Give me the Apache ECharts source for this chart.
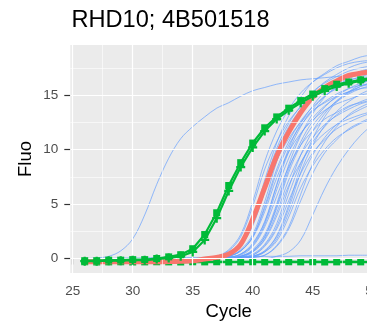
<!DOCTYPE html>
<html>
<head>
<meta charset="utf-8">
<script src="https://cdn.jsdelivr.net/npm/echarts@6/dist/echarts.min.js"></script>
<style>html,body{margin:0;padding:0;background:#fff;overflow:hidden;}#c{width:367px;height:325px;}</style>
</head>
<body>
<div id="c"></div>
<script>
const titleText = 'RHD10; 4B501518';
const cycles = [26,27,28,29,30,31,32,33,34,35,36,37,38,39,40,41,42,43,44,45,46,47,48,49,50];
const xTicks = [25,30,35,40,45,50];
const xMinor = [27.5,32.5,37.5,42.5,47.5];
const yTicks = [0,5,10,15];
const yMinor = [2.5,7.5,12.5,17.5];

const blue01 = [0,0,0,0,0,0,0,0,0,0,0,0.2,0.8,2.2,5.2,8.9,11.7,13.7,15.2,16.2,16.9,17.5,17.9,18.1,18.2];
const blue02 = [0,0,0,0,0,0,0,0,0,0,0,0.2,0.7,2.0,4.8,8.2,10.7,12.6,13.9,14.9,15.6,16.1,16.4,16.6,16.7];
const blue03 = [0,0,0,0,0,0,0,0,0,0,0,0.1,0.4,1.4,3.6,7.2,10.6,13.1,14.8,16.2,17.0,17.7,18.1,18.5,18.7];
const blue04 = [0,0,0,0,0,0,0,0,0,0,0,0.1,0.4,1.3,3.3,6.7,9.8,12.1,13.7,14.9,15.7,16.3,16.7,17.0,17.2];
const blue05 = [0,0,0,0,0,0,0,0,0,0,0,0.1,0.4,1.2,3.0,6.1,9.0,11.0,12.5,13.6,14.3,14.9,15.3,15.6,15.7];
const blue06 = [0,0,0,0,0,0,0,0,0,0,0,0,0.2,0.8,2.2,5.2,8.9,11.7,13.7,15.2,16.2,16.9,17.5,17.9,18.1];
const blue07 = [0,0,0,0,0,0,0,0,0,0,0,0,0.2,0.7,2.0,4.8,8.2,10.7,12.6,13.9,14.9,15.6,16.1,16.4,16.6];
const blue08 = [0,0,0,0,0,0,0,0,0,0,0,0,0.2,0.7,1.9,4.3,7.4,9.8,11.5,12.7,13.6,14.2,14.6,15.0,15.2];
const blue09 = [0,0,0,0,0,0,0,0,0,0,0,0,0.2,0.7,2.0,4.6,7.9,10.4,12.2,13.5,14.4,15.1,15.6,15.9,16.1];
const blue10 = [0,0,0,0,0,0,0,0,0,0,0,0,0.1,0.4,1.4,3.4,6.8,10.1,12.4,14.0,15.3,16.1,16.7,17.2,17.5];
const blue11 = [0,0,0,0,0,0,0,0,0,0,0,0,0.1,0.4,1.2,3.1,6.3,9.2,11.4,12.9,14.0,14.8,15.3,15.8,16.0];
const blue12 = [0,0,0,0,0,0,0,0,0,0,0,0,0.1,0.3,1.1,2.9,5.7,8.4,10.4,11.7,12.8,13.4,14.0,14.3,14.6];
const blue13 = [0,0,0,0,0,0,0,0,0,0,0,0,0.1,0.4,1.3,3.3,6.7,9.8,12.1,13.7,14.9,15.7,16.3,16.7,17.0];
const blue14 = [0,0,0,0,0,0,0,0,0,0,0,0,0,0.2,0.8,2.2,5.0,8.6,11.3,13.3,14.8,15.8,16.5,17.0,17.4];
const blue15 = [0,0,0,0,0,0,0,0,0,0,0,0,0,0.2,0.7,2.0,4.6,7.9,10.4,12.2,13.5,14.4,15.1,15.6,15.9];
const blue16 = [0,0,0,0,0,0,0,0,0,0,0,0,0,0.2,0.6,1.8,4.2,7.2,9.5,11.1,12.3,13.1,13.7,14.2,14.5];
const blue17 = [0,0,0,0,0,0,0,0,0,0,0,0,0,0.1,0.6,1.7,3.9,6.7,8.8,10.4,11.5,12.3,12.8,13.2,13.5];
const blue18 = [0,0,0,0,0,0,0,0,0,0,0,0,0,0.1,0.4,1.3,3.2,6.5,9.5,11.7,13.3,14.5,15.2,15.8,16.2];
const blue19 = [0,0,0,0,0,0,0,0,0,0,0,0,0,0.1,0.3,1.2,2.9,5.9,8.7,10.7,12.1,13.2,13.9,14.4,14.8];
const blue20 = [0,0,0,0,0,0,0,0,0,0,0,0,0,0.1,0.3,1.1,2.7,5.3,7.8,9.7,10.9,11.9,12.5,13.0,13.4];
const blue21 = [0,0,0,0,0,0,0,0,0,0,0,0,0,0,0.2,0.7,2.0,4.6,7.9,10.4,12.2,13.5,14.4,15.1,15.6];
const blue22 = [0,0,0,0,0,0,0,0,0,0,0,0,0,0,0.2,0.6,1.8,4.2,7.2,9.5,11.1,12.3,13.1,13.7,14.2];
const blue23 = [0,0,0,0,0,0,0,0,0,0,0,0,0,0,0.1,0.6,1.6,3.8,6.5,8.5,10.0,11.1,11.8,12.4,12.8];
const blue24 = [0,0,0,0,0,0,0,0,0,0,0,0,0,0,0.1,0.3,1.2,2.9,5.9,8.7,10.7,12.1,13.2,13.9,14.4];
const blue25 = [0,0,0,0,0,0,0,0,0,0,0,0,0,0,0.1,0.3,1.1,2.7,5.3,7.8,9.7,10.9,11.9,12.5,13.0];
const blue26 = [0,0,0,0,0,0,0,0,0,0,0,0.1,0.4,1.4,3.4,6.8,10.1,12.4,14.0,15.3,16.1,16.7,17.2,17.5,17.7];
const blue27 = [0,0,0,0,0,0,0,0,0,0,0,0,0,0.2,0.7,2.0,4.8,8.2,10.7,12.6,13.9,14.9,15.6,16.1,16.4];
const blue28 = [0,0,0,0,0,0,0,0,0,0,0,0,0,0,0.2,0.7,2.1,4.9,8.4,11.0,13.0,14.4,15.3,16.0,16.5];
const blueLate = [0,0,0,0,0,0,0,0,0,0,0,0,0,0,0,0,0.2,0.6,1.7,4.0,6.4,8.4,10.0,11.3,12.3];
const blueEarly = [0.0,0.05,0.2,0.7,1.8,4.0,6.8,9.2,11.0,12.1,13.0,13.8,14.3,14.9,15.4,15.7,16.0,16.2,16.4,16.5,16.6,16.7,16.8,16.9,17.0];
const blueFlat = [0.0,0.0,0.0,0.05,0.05,0.05,0.1,0.1,0.1,0.1,0.1,0.15,0.15,0.15,0.2,0.2,0.2,0.2,0.25,0.25,0.25,0.25,0.3,0.3,0.3];

const redFit = [-0.3,-0.3,-0.3,-0.3,-0.3,-0.3,-0.3,-0.28,-0.25,-0.2,-0.05,0.1,0.4,1.3,3.6,6.5,9.4,11.6,13.4,14.8,15.7,16.3,16.8,17.0,17.2];
const greenSquare = [-0.2,-0.2,-0.15,-0.15,-0.1,-0.1,0.0,0.15,0.35,0.9,2.2,4.2,6.7,8.8,10.6,12.0,13.0,13.8,14.5,15.1,15.6,16.0,16.2,16.4,16.6];
const greenPlus = [-0.25,-0.25,-0.2,-0.2,-0.15,-0.15,-0.05,0.05,0.2,0.6,1.7,3.7,6.2,8.4,10.2,11.7,12.8,13.6,14.3,14.9,15.4,15.8,16.1,16.3,16.5];
const greenFlat = [-0.3,-0.32,-0.31,-0.3,-0.32,-0.31,-0.3,-0.31,-0.32,-0.3,-0.31,-0.3,-0.32,-0.31,-0.3,-0.31,-0.32,-0.3,-0.31,-0.3,-0.32,-0.31,-0.3,-0.31,-0.32];

const blueList = [blue01,blue02,blue03,blue04,blue05,blue06,blue07,blue08,blue09,blue10,blue11,blue12,blue13,blue14,
  blue15,blue16,blue17,blue18,blue19,blue20,blue21,blue22,blue23,blue24,blue25,blue26,blue27,blue28,blueLate,blueEarly,blueFlat];

function pairs(vals){ return cycles.map((c,i)=>[c, vals[i]]); }

const FONT = 'Liberation Sans, Arial, sans-serif';
const series = [];
series.push({
  type:'line', data:[[30,0]], showSymbol:false, lineStyle:{opacity:0}, z:1, silent:true,
  markLine:{
    silent:true, symbol:['none','none'], label:{show:false}, animation:false,
    data: [
      ...yMinor.map(v=>({yAxis:v, lineStyle:{color:'#ffffff', width:0.6, type:'solid'}})),
      ...xMinor.map(v=>({xAxis:v, lineStyle:{color:'#ffffff', width:0.6, type:'solid'}})),
      ...yTicks.map(v=>({yAxis:v, lineStyle:{color:'#ffffff', width:1.2, type:'solid'}})),
      ...xTicks.map(v=>({xAxis:v, lineStyle:{color:'#ffffff', width:1.2, type:'solid'}}))
    ]
  }
});
blueList.forEach(arr=>{
  series.push({type:'line', data:pairs(arr), showSymbol:false, smooth:0.35, z:2, silent:true,
    lineStyle:{color:'#619CFF', width:0.9, opacity:0.75}});
});
series.push({type:'line', data:pairs(greenFlat), symbol:'rect', symbolSize:7, z:3,
  itemStyle:{color:'#00BA38'}, lineStyle:{color:'#00BA38', width:2.5}});
series.push({type:'line', data:pairs(redFit), showSymbol:false, smooth:0.35, z:4,
  lineStyle:{color:'#F8766D', width:5}});
series.push({type:'line', data:pairs(greenPlus), symbol:'path://M3,0H5V3H8V5H5V8H3V5H0V3H3Z', symbolSize:9, z:5,
  itemStyle:{color:'#00BA38'}, lineStyle:{color:'#00BA38', width:2.2}});
series.push({type:'line', data:pairs(greenSquare), symbol:'rect', symbolSize:7, z:6,
  itemStyle:{color:'#00BA38'}, lineStyle:{color:'#00BA38', width:2.2}});

const chart = echarts.init(document.getElementById('c'), null, {renderer:'canvas'});
chart.setOption({
  animation:false,
  backgroundColor:'#ffffff',
  title:{text:titleText, left:71.5, top:8.5, padding:0, textStyle:{fontFamily:FONT, fontSize:23.6, fontWeight:'normal', color:'#000000'}},
  grid:{left:70.3, top:45, width:316.8, height:228, show:true, backgroundColor:'#EBEBEB', borderWidth:0,
    containLabel:false, outerBoundsMode:'none'},
  xAxis:{type:'value', min:24.8, max:51.2,
    name:'Cycle', nameLocation:'middle', nameGap:29, nameMoveOverlap:false,
    nameTextStyle:{fontFamily:FONT, fontSize:18.5, color:'#000000'},
    axisLine:{show:false}, splitLine:{show:false},
    axisTick:{show:true, customValues:xTicks, length:6, lineStyle:{color:'#333333', width:1.2}},
    axisLabel:{customValues:xTicks, margin:11, color:'#4D4D4D', fontSize:13.5, fontFamily:FONT}},
  yAxis:{type:'value', min:-1.33, max:19.6,
    name:'Fluo', nameLocation:'middle', nameGap:35, nameRotate:90, nameMoveOverlap:false,
    nameTextStyle:{fontFamily:FONT, fontSize:18.5, color:'#000000'},
    axisLine:{show:false}, splitLine:{show:false},
    axisTick:{show:true, customValues:yTicks, length:6, lineStyle:{color:'#333333', width:1.2}},
    axisLabel:{customValues:yTicks, margin:12, color:'#4D4D4D', fontSize:13.5, fontFamily:FONT}},
  series: series
});
</script>
</body>
</html>
